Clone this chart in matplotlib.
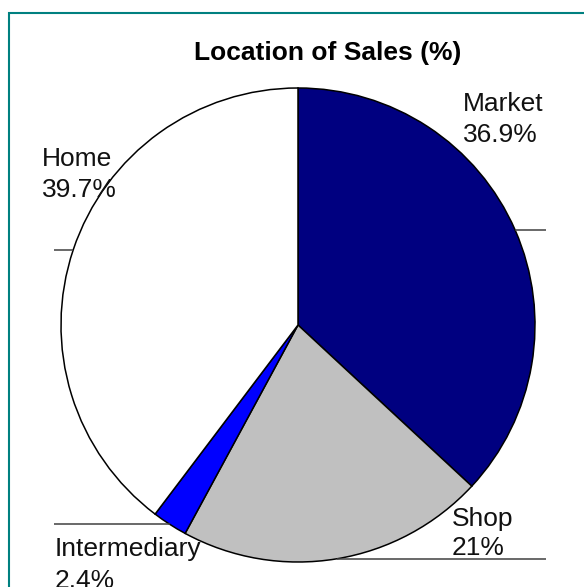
import numpy as np
import matplotlib
matplotlib.use("Agg")
import matplotlib.pyplot as plt
from matplotlib.patches import Rectangle

# ---- data ----
categories = ["Market", "Shop", "Intermediary", "Home"]
values = [36.9, 21, 2.4, 39.7]
colors = ["#000080", "#C0C0C0", "#0000FF", "#FFFFFF"]
title = "Location of Sales (%)"

W, H = 584, 587
fig = plt.figure(figsize=(W / 100, H / 100), dpi=100)
ax = fig.add_axes([0, 0, 1, 1])

cx, cy, r = 298, H - 325, 237

wedges, _ = ax.pie(values, colors=colors, startangle=90, counterclock=False,
                   center=(cx, cy), radius=r,
                   wedgeprops=dict(edgecolor="black", linewidth=1.1))
ax.set_xlim(0, W)
ax.set_ylim(0, H)
ax.set_aspect("equal")
ax.axis("off")

# border
ax.add_patch(Rectangle((9, -50), 700, H - 13 + 50, fill=False,
                       edgecolor="#008080", linewidth=1.5, zorder=5))

# title
ax.text(328, H - 60, title, ha="center", va="baseline", fontsize=19,
        fontweight="bold", family="Liberation Sans")

# leader lines from slice mid-angle to fixed x
label_cfg = {
    # name: (line end x, label left x, name baseline (px from top), value baseline)
    "Market": (546, 463, 111, 142),
    "Shop": (546, 452, 526, 555),
    "Intermediary": (54, 55, 556, 588),
    "Home": (54, 42, 166, 197),
}
total = sum(values)
cum = 0
for name, v in zip(categories, values):
    mid = (cum + v / 2) / total * 360.0
    cum += v
    th = np.deg2rad(90 - mid)
    px = cx + r * np.cos(th)
    py = cy + r * np.sin(th)
    xend, lx, b1, b2 = label_cfg[name]
    ax.plot([px, xend], [py, py], color="#404040", linewidth=1.1, zorder=3,
            solid_capstyle="butt")
    ax.text(lx, H - b1, name, ha="left", va="baseline", fontsize=19,
            family="Liberation Sans", color="#111111")
    ax.text(lx, H - b2, f"{v:g}%", ha="left", va="baseline", fontsize=19,
            family="Liberation Sans", color="#111111")

fig.savefig("out.png", dpi=100)
